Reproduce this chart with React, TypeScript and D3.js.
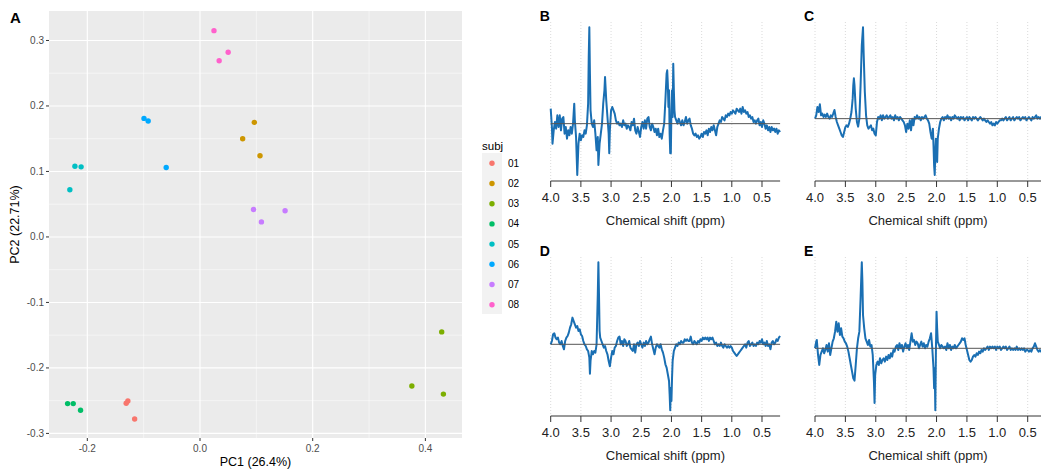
import React from "react";
import * as d3 from "d3";

// ---------- Panel A data (PCA scores) ----------
const SUBJ_LEVELS = ["01", "02", "03", "04", "05", "06", "07", "08"];
const SUBJ_COLORS = ["#F8766D", "#CD9600", "#7CAE00", "#00BE67", "#00BFC4", "#00A9FF", "#C77CFF", "#FF61CC"];
const SUBJ = ["01", "01", "01", "02", "02", "02", "03", "03", "03", "04", "04", "04", "05", "05", "05", "06", "06", "06", "07", "07", "07", "08", "08", "08"];
const PC1 = [-0.131, -0.128, -0.116, 0.0964, 0.0757, 0.1065, 0.429, 0.376, 0.432, -0.235, -0.225, -0.212, -0.222, -0.211, -0.231, -0.0994, -0.092, -0.06, 0.095, 0.151, 0.109, 0.0248, 0.05, 0.034];
const PC2 = [-0.254, -0.2504, -0.278, 0.175, 0.15, 0.124, -0.145, -0.2275, -0.24, -0.2545, -0.2545, -0.2646, 0.108, 0.107, 0.072, 0.181, 0.177, 0.106, 0.042, 0.04, 0.023, 0.315, 0.282, 0.269];
const PC1_TICKS = [-0.2, 0.0, 0.2, 0.4];
const PC1_MINOR = [-0.1, 0.1, 0.3];
const PC2_TICKS = [-0.3, -0.2, -0.1, 0.0, 0.1, 0.2, 0.3];
const PC2_MINOR = [-0.25, -0.15, -0.05, 0.05, 0.15, 0.25];

// ---------- Spectra data: [ppm, intensity (arbitrary units)] ----------
const PPM_TICKS = [4.0, 3.5, 3.0, 2.5, 2.0, 1.5, 1.0, 0.5];

const specB: [number, number][] = [
  [4.0, 45], [3.98, -10], [3.97, -60], [3.95, -20], [3.93, 5], [3.91, -15], [3.89, 25], [3.87, -10], [3.85, 25], [3.83, -20],
  [3.81, 15], [3.79, 20], [3.77, -30], [3.75, -10], [3.73, -45], [3.71, -20], [3.69, -35], [3.67, -10], [3.65, -30], [3.63, 0],
  [3.61, 60], [3.6, 10], [3.58, -40], [3.56, -154], [3.54, -60], [3.52, -30], [3.5, -50], [3.48, -35], [3.46, -40], [3.44, -20],
  [3.42, -30], [3.4, -5], [3.38, 60], [3.37, 200], [3.36, 289], [3.35, 150], [3.34, 40], [3.32, 0], [3.3, -10], [3.28, 10],
  [3.26, -30], [3.24, -80], [3.22, -40], [3.21, -124], [3.19, -60], [3.17, -30], [3.15, 0], [3.13, 60], [3.11, 100], [3.1, 140],
  [3.08, 70], [3.06, 20], [3.04, -30], [3.03, -89], [3.02, -20], [3.0, 40], [2.98, 50], [2.96, 40], [2.94, 30], [2.92, 10],
  [2.9, 0], [2.88, 5], [2.86, -5], [2.84, 0], [2.82, -10], [2.8, 10], [2.78, -5], [2.76, 0], [2.74, -15], [2.72, -5],
  [2.7, -10], [2.68, -20], [2.66, 5], [2.64, -5], [2.62, 15], [2.6, -20], [2.58, -30], [2.56, -10], [2.54, -25], [2.52, -40],
  [2.5, -10], [2.48, 5], [2.46, -15], [2.44, 10], [2.42, -15], [2.4, 15], [2.38, 20], [2.36, -10], [2.34, -20], [2.32, 0],
  [2.3, -10], [2.28, -25], [2.26, -15], [2.24, -35], [2.22, -15], [2.2, -40], [2.18, -30], [2.16, -45], [2.14, -20], [2.12, 0],
  [2.1, 70], [2.08, 150], [2.07, 160], [2.06, 120], [2.05, 50], [2.04, 100], [2.03, -30], [2.02, -89], [2.01, -89], [2.0, 40],
  [1.99, 100], [1.98, 20], [1.97, 180], [1.96, 100], [1.95, 40], [1.94, 20], [1.92, 10], [1.9, 0], [1.88, 15], [1.86, 5],
  [1.84, -5], [1.82, 10], [1.8, -5], [1.78, 5], [1.76, 20], [1.74, 0], [1.72, 10], [1.7, 15], [1.68, -5], [1.66, -15],
  [1.64, -30], [1.62, -35], [1.6, -30], [1.58, -40], [1.56, -35], [1.54, -45], [1.52, -40], [1.5, -30], [1.48, -40], [1.46, -25],
  [1.44, -30], [1.42, -20], [1.4, -35], [1.38, -15], [1.36, -25], [1.34, -10], [1.32, -20], [1.3, -5], [1.28, -20], [1.26, -35],
  [1.24, -10], [1.22, 0], [1.2, 10], [1.18, 5], [1.16, 20], [1.14, 15], [1.12, 10], [1.1, 25], [1.08, 20], [1.06, 30],
  [1.04, 25], [1.02, 35], [1.0, 30], [0.98, 40], [0.96, 35], [0.94, 30], [0.92, 45], [0.9, 40], [0.88, 35], [0.86, 45],
  [0.84, 30], [0.82, 50], [0.8, 35], [0.78, 40], [0.76, 30], [0.74, 35], [0.72, 20], [0.7, 25], [0.68, 15], [0.66, 20],
  [0.64, 5], [0.62, 10], [0.6, 0], [0.58, 10], [0.56, 15], [0.54, -5], [0.52, 5], [0.5, -10], [0.48, 10], [0.46, 0],
  [0.44, -15], [0.42, -5], [0.4, -20], [0.38, -10], [0.36, -25], [0.34, -10], [0.32, -20], [0.3, -15], [0.28, -25], [0.26, -15],
  [0.24, -30], [0.22, -20], [0.2, -25],
];

const specC: [number, number][] = [
  [4.0, 0], [3.98, 10], [3.96, 35], [3.94, 20], [3.92, 43], [3.9, 10], [3.88, 15], [3.86, 5], [3.84, 12], [3.82, 5],
  [3.8, 15], [3.78, 5], [3.76, 0], [3.74, 10], [3.72, 5], [3.7, 15], [3.68, 26], [3.66, 5], [3.64, -10], [3.62, -20],
  [3.6, -30], [3.58, -40], [3.56, -50], [3.54, -55], [3.52, -40], [3.5, -25], [3.48, -20], [3.46, -25], [3.44, -15], [3.42, 0],
  [3.4, 20], [3.38, 60], [3.37, 100], [3.36, 121], [3.35, 100], [3.33, 30], [3.31, -10], [3.29, -24], [3.27, 0], [3.25, 100],
  [3.23, 220], [3.21, 274], [3.2, 200], [3.18, 80], [3.16, 10], [3.14, -20], [3.12, -30], [3.1, -25], [3.08, -20], [3.06, -35],
  [3.04, -30], [3.02, -45], [3.0, -50], [2.98, -10], [2.96, 5], [2.94, 0], [2.92, 10], [2.9, -5], [2.88, 10], [2.86, 0],
  [2.84, 5], [2.82, 10], [2.8, 0], [2.78, 5], [2.76, 10], [2.74, 0], [2.72, 5], [2.7, -5], [2.68, 10], [2.66, 0],
  [2.64, 5], [2.62, -5], [2.6, 5], [2.58, 0], [2.56, -5], [2.54, -10], [2.52, -20], [2.5, -40], [2.48, -15], [2.46, -30],
  [2.44, -5], [2.42, -35], [2.4, 0], [2.38, -20], [2.36, 5], [2.34, 0], [2.32, 10], [2.3, 0], [2.28, 5], [2.26, -5],
  [2.24, 5], [2.22, 0], [2.2, 5], [2.18, 10], [2.16, 0], [2.14, -5], [2.12, -15], [2.1, -40], [2.08, -60], [2.06, -30],
  [2.05, -80], [2.04, -140], [2.03, -169], [2.02, -100], [2.01, -60], [2.0, -100], [1.99, -130], [1.98, -60], [1.96, -30], [1.94, -10],
  [1.92, 0], [1.9, 5], [1.88, -5], [1.86, 5], [1.84, 0], [1.82, 10], [1.8, 0], [1.78, 5], [1.76, -5], [1.74, 5],
  [1.72, 0], [1.7, 10], [1.68, 5], [1.66, 0], [1.64, 5], [1.62, -5], [1.6, 5], [1.58, 0], [1.56, 5], [1.54, -5],
  [1.52, 0], [1.5, 5], [1.48, -5], [1.46, 5], [1.44, 0], [1.42, -5], [1.4, 5], [1.38, 0], [1.36, 5], [1.34, 0],
  [1.32, -5], [1.3, 0], [1.28, 5], [1.26, 0], [1.24, -5], [1.22, 0], [1.2, -5], [1.18, -10], [1.16, -5], [1.14, -10],
  [1.12, -15], [1.1, -10], [1.08, -20], [1.06, -15], [1.04, -20], [1.02, -10], [1.0, -15], [0.98, -10], [0.96, -5], [0.94, -5],
  [0.92, 0], [0.9, -5], [0.88, 0], [0.86, 5], [0.84, -5], [0.82, 0], [0.8, 5], [0.78, -5], [0.76, 0], [0.74, 5],
  [0.72, -5], [0.7, 0], [0.68, 5], [0.66, 0], [0.64, 5], [0.62, -5], [0.6, 0], [0.58, 5], [0.56, 0], [0.54, 5],
  [0.52, -5], [0.5, 0], [0.48, 5], [0.46, 0], [0.44, -5], [0.42, 5], [0.4, 0], [0.38, 5], [0.36, 10], [0.34, 0],
  [0.32, 5], [0.3, 0], [0.28, 5], [0.26, -5], [0.24, 0], [0.22, 5], [0.2, 0],
];

const specD: [number, number][] = [
  [4.0, 0], [3.98, 10], [3.96, 30], [3.94, 33], [3.92, 20], [3.9, 15], [3.88, 20], [3.86, 5], [3.84, 0], [3.82, 10],
  [3.8, -5], [3.78, -15], [3.76, 10], [3.74, 20], [3.72, 25], [3.7, 35], [3.68, 50], [3.66, 60], [3.64, 80], [3.62, 70],
  [3.6, 60], [3.58, 50], [3.56, 55], [3.54, 40], [3.52, 45], [3.5, 30], [3.48, 25], [3.46, 10], [3.44, 0], [3.42, -5],
  [3.4, -15], [3.38, -20], [3.36, -40], [3.35, -88], [3.34, -50], [3.32, -20], [3.3, -30], [3.28, -20], [3.26, -25], [3.24, 0],
  [3.22, 150], [3.21, 246], [3.2, 150], [3.19, 40], [3.18, 20], [3.16, 10], [3.14, 0], [3.12, -10], [3.1, -5], [3.08, -20],
  [3.06, -30], [3.04, -50], [3.02, -66], [3.0, -40], [2.98, -20], [2.96, -30], [2.94, -10], [2.92, -5], [2.9, 10], [2.88, 20],
  [2.86, 23], [2.84, 0], [2.82, 10], [2.8, -5], [2.78, 15], [2.76, 10], [2.74, -5], [2.72, 0], [2.7, 10], [2.68, -10],
  [2.66, -15], [2.64, -20], [2.62, 0], [2.6, -25], [2.58, 0], [2.56, 5], [2.54, -5], [2.52, 10], [2.5, 0], [2.48, -10],
  [2.46, 5], [2.44, -5], [2.42, 10], [2.4, 0], [2.38, 5], [2.36, 15], [2.34, 23], [2.32, 0], [2.3, -15], [2.28, -30],
  [2.26, -10], [2.24, 0], [2.22, -5], [2.2, -10], [2.18, 0], [2.16, -15], [2.14, -25], [2.12, -40], [2.1, -60], [2.08, -70],
  [2.06, -90], [2.04, -110], [2.03, -150], [2.02, -198], [2.01, -130], [2.0, -170], [1.99, -100], [1.98, -50], [1.96, -20], [1.94, -10],
  [1.92, 0], [1.9, -5], [1.88, 5], [1.86, 0], [1.84, 10], [1.82, 5], [1.8, 5], [1.78, 15], [1.76, 10], [1.74, 15],
  [1.72, 10], [1.7, 10], [1.68, 23], [1.66, 5], [1.64, 0], [1.62, 10], [1.6, 5], [1.58, 0], [1.56, 10], [1.54, 5],
  [1.52, 15], [1.5, 10], [1.48, 20], [1.46, 15], [1.44, 20], [1.42, 15], [1.4, 20], [1.38, 10], [1.36, 20], [1.34, 15],
  [1.32, 20], [1.3, 10], [1.28, 0], [1.26, 5], [1.24, -5], [1.22, 0], [1.2, -5], [1.18, 5], [1.16, -5], [1.14, -10],
  [1.12, 0], [1.1, -5], [1.08, -10], [1.06, -5], [1.04, -10], [1.02, -5], [1.0, -10], [0.98, -20], [0.96, -25], [0.94, -30],
  [0.92, -35], [0.9, -30], [0.88, -25], [0.86, -20], [0.84, -15], [0.82, -10], [0.8, -5], [0.78, 0], [0.76, -10], [0.74, 5],
  [0.72, 10], [0.7, -5], [0.68, 0], [0.66, 5], [0.64, -5], [0.62, 0], [0.6, -5], [0.58, 5], [0.56, 0], [0.54, 10],
  [0.52, 5], [0.5, 15], [0.48, 0], [0.46, 5], [0.44, -5], [0.42, 10], [0.4, -5], [0.38, 0], [0.36, -15], [0.34, 5],
  [0.32, 10], [0.3, 0], [0.28, 5], [0.26, 15], [0.24, 10], [0.22, 20], [0.2, 25],
];

const specE: [number, number][] = [
  [4.0, 0], [3.98, 20], [3.97, 25], [3.95, -20], [3.93, -50], [3.91, -20], [3.89, -10], [3.87, 0], [3.85, -15], [3.83, -5],
  [3.81, 10], [3.79, -10], [3.77, 15], [3.75, -20], [3.73, 0], [3.71, 20], [3.69, 30], [3.67, 50], [3.65, 80], [3.63, 50],
  [3.61, 75], [3.59, 40], [3.57, 60], [3.55, 35], [3.53, 30], [3.51, 20], [3.49, 15], [3.47, 5], [3.45, -10], [3.43, -30],
  [3.41, -50], [3.39, -70], [3.37, -90], [3.35, -97], [3.33, -50], [3.31, 0], [3.29, 30], [3.27, 50], [3.25, 150], [3.23, 258],
  [3.22, 200], [3.21, 100], [3.19, 60], [3.17, 30], [3.15, 20], [3.13, 10], [3.11, 25], [3.09, 5], [3.07, 10], [3.05, -20],
  [3.03, -100], [3.02, -164], [3.01, -80], [2.99, -50], [2.97, -40], [2.95, -50], [2.93, -30], [2.91, -45], [2.89, -35], [2.87, -30],
  [2.85, -40], [2.83, -25], [2.81, -35], [2.79, -20], [2.77, -30], [2.75, -15], [2.73, -25], [2.71, -5], [2.69, -10], [2.67, 5],
  [2.65, 10], [2.63, -5], [2.61, 15], [2.59, 0], [2.57, 10], [2.55, -10], [2.53, 5], [2.51, 15], [2.49, 0], [2.47, 10],
  [2.45, -5], [2.43, 20], [2.41, 45], [2.39, 20], [2.37, 25], [2.35, 10], [2.33, 20], [2.31, 15], [2.29, 0], [2.27, 10],
  [2.25, 20], [2.23, 5], [2.21, 15], [2.19, 0], [2.17, 10], [2.15, 5], [2.13, 20], [2.11, 30], [2.09, 45], [2.07, 0],
  [2.05, -60], [2.04, -120], [2.03, -60], [2.02, -186], [2.01, 0], [2.0, 110], [1.99, 60], [1.98, 20], [1.96, 10], [1.94, 0],
  [1.92, 10], [1.9, 5], [1.88, 0], [1.86, 5], [1.84, -5], [1.82, 15], [1.8, 0], [1.78, 10], [1.76, -5], [1.74, 5],
  [1.72, 0], [1.7, 10], [1.68, 0], [1.66, 5], [1.64, 10], [1.62, 15], [1.6, 20], [1.58, 30], [1.56, 25], [1.54, 30],
  [1.52, 10], [1.5, -5], [1.48, -20], [1.46, -35], [1.44, -40], [1.42, -35], [1.4, -25], [1.38, -20], [1.36, -25], [1.34, -15],
  [1.32, -20], [1.3, -10], [1.28, -15], [1.26, -5], [1.24, -10], [1.22, 0], [1.2, -5], [1.18, 0], [1.16, 5], [1.14, -5],
  [1.12, 5], [1.1, 0], [1.08, 5], [1.06, 0], [1.04, 5], [1.02, -5], [1.0, 5], [0.98, 0], [0.96, 5], [0.94, -5],
  [0.92, 0], [0.9, 5], [0.88, 0], [0.86, 5], [0.84, -5], [0.82, 0], [0.8, 5], [0.78, -5], [0.76, 0], [0.74, -5],
  [0.72, 0], [0.7, -5], [0.68, 5], [0.66, -5], [0.64, 0], [0.62, -5], [0.6, 0], [0.58, -5], [0.56, 0], [0.54, -10],
  [0.52, -5], [0.5, -5], [0.48, -10], [0.46, -5], [0.44, -10], [0.42, 0], [0.4, 5], [0.38, 15], [0.36, 5], [0.34, -5],
  [0.32, -10], [0.3, -5], [0.28, -10], [0.26, -5], [0.24, -10], [0.22, -5], [0.2, -10],
];

const FONT = "'Liberation Sans', Arial, Helvetica, sans-serif";
const LINE_COLOR = "#1A6FB3";

type SpecPanelProps = {
  label: string;
  data: [number, number][];
  x0: number;
  pxPerPpm: number;
  top: number;
  bottom: number;
  gridTop: number;
  axisY: number;
};

function SpecPanel({ label, data, x0, pxPerPpm, top, bottom, gridTop, axisY }: SpecPanelProps) {
  const x = d3.scaleLinear().domain([4.0, 0.2]).range([x0, x0 + 3.8 * pxPerPpm]);
  const ext = d3.extent(data, (d) => d[1]) as [number, number];
  const y = d3.scaleLinear().domain(ext).range([bottom, top]);
  const line = d3
    .line<[number, number]>()
    .x((d) => x(d[0]))
    .y((d) => y(d[1]));
  const [xa, xb] = x.range();
  return (
    <g>
      <text x={x0 - 11} y={gridTop - 1} fontFamily={FONT} fontWeight="bold" fontSize={14} fill="#000">
        {label}
      </text>
      {PPM_TICKS.map((t) => (
        <line key={"g" + t} x1={x(t)} x2={x(t)} y1={gridTop} y2={axisY} stroke="#D0D0D0" strokeWidth={0.8} strokeDasharray="1,2" />
      ))}
      <path d={line(data) || ""} fill="none" stroke={LINE_COLOR} strokeWidth={2} strokeLinejoin="round" />
      <line x1={xa} x2={xb} y1={y(0)} y2={y(0)} stroke="#555" strokeWidth={1} />
      <line x1={xa} x2={xb} y1={axisY} y2={axisY} stroke="#333" strokeWidth={1} />
      {PPM_TICKS.map((t) => (
        <g key={"t" + t}>
          <line x1={x(t)} x2={x(t)} y1={axisY} y2={axisY + 6} stroke="#333" strokeWidth={1} />
          <text x={x(t)} y={axisY + 21} textAnchor="middle" fontFamily={FONT} fontSize={13} fill="#222">
            {t.toFixed(1)}
          </text>
        </g>
      ))}
      <text x={(xa + Math.min(xb, 1041)) / 2 + (xb > 1041 ? 0 : 0)} y={axisY + 44} textAnchor="middle" fontFamily={FONT} fontSize={13} fill="#222">
        Chemical shift (ppm)
      </text>
    </g>
  );
}

export default function App() {
  // Panel A geometry
  const L = 49, R = 462, T = 11, B = 438;
  const x = d3.scaleLinear().domain([-0.268, 0.465]).range([L, R]);
  const y = d3.scaleLinear().domain([-0.307, 0.345]).range([B, T]);
  const color = d3.scaleOrdinal<string, string>().domain(SUBJ_LEVELS).range(SUBJ_COLORS);
  const fmt = (v: number) => (Math.abs(v) < 1e-9 ? "0.0" : v.toFixed(1));

  return (
    <svg width={1041} height={470} style={{ position: "absolute", left: 0, top: 0, background: "#fff" }}>
      <rect x={0} y={0} width={1041} height={470} fill="#fff" />
      {/* Panel A */}
      <text x={10} y={23} fontFamily={FONT} fontWeight="bold" fontSize={15} fill="#000">A</text>
      <rect x={L} y={T} width={R - L} height={B - T} fill="#EBEBEB" />
      {PC1_MINOR.map((v) => (
        <line key={"xm" + v} x1={x(v)} x2={x(v)} y1={T} y2={B} stroke="#fff" strokeWidth={0.5} />
      ))}
      {PC2_MINOR.map((v) => (
        <line key={"ym" + v} x1={L} x2={R} y1={y(v)} y2={y(v)} stroke="#fff" strokeWidth={0.5} />
      ))}
      {PC1_TICKS.map((v) => (
        <line key={"xM" + v} x1={x(v)} x2={x(v)} y1={T} y2={B} stroke="#fff" strokeWidth={1.1} />
      ))}
      {PC2_TICKS.map((v) => (
        <line key={"yM" + v} x1={L} x2={R} y1={y(v)} y2={y(v)} stroke="#fff" strokeWidth={1.1} />
      ))}
      {PC1.map((v, i) => (
        <circle key={"p" + i} cx={x(v)} cy={y(PC2[i])} r={2.7} fill={color(SUBJ[i])} />
      ))}
      {PC1_TICKS.map((v) => (
        <g key={"xt" + v}>
          <line x1={x(v)} x2={x(v)} y1={B} y2={B + 3} stroke="#333" strokeWidth={1} />
          <text x={x(v)} y={B + 14} textAnchor="middle" fontFamily={FONT} fontSize={10} fill="#4D4D4D">
            {fmt(v)}
          </text>
        </g>
      ))}
      {PC2_TICKS.map((v) => (
        <g key={"yt" + v}>
          <line x1={L - 3} x2={L} y1={y(v)} y2={y(v)} stroke="#333" strokeWidth={1} />
          <text x={L - 5} y={y(v) + 3.5} textAnchor="end" fontFamily={FONT} fontSize={10} fill="#4D4D4D">
            {fmt(v)}
          </text>
        </g>
      ))}
      <text x={(L + R) / 2} y={466} textAnchor="middle" fontFamily={FONT} fontSize={12.5} fill="#000">
        PC1 (26.4%)
      </text>
      <text transform={`translate(19,${(T + B) / 2}) rotate(-90)`} textAnchor="middle" fontFamily={FONT} fontSize={12.5} fill="#000">
        PC2 (22.71%)
      </text>
      {/* Legend */}
      <text x={482} y={150} fontFamily={FONT} fontSize={11.5} fill="#000">subj</text>
      <rect x={482} y={153} width={20} height={161} fill="#F2F2F2" />
      {SUBJ_LEVELS.map((s, i) => (
        <g key={"lg" + s}>
          <circle cx={492} cy={163.3 + i * 20.2} r={2.7} fill={color(s)} />
          <text x={508} y={163.3 + i * 20.2 + 3.5} fontFamily={FONT} fontSize={10} fill="#000">
            {s}
          </text>
        </g>
      ))}
      {/* Spectra panels */}
      <SpecPanel label="B" data={specB} x0={550.7} pxPerPpm={60.37} top={27.3} bottom={175} gridTop={22} axisY={181} />
      <SpecPanel label="C" data={specC} x0={815} pxPerPpm={60.77} top={27.3} bottom={175} gridTop={22} axisY={181} />
      <SpecPanel label="D" data={specD} x0={550.7} pxPerPpm={60.37} top={262.3} bottom={410.3} gridTop={257} axisY={416} />
      <SpecPanel label="E" data={specE} x0={815} pxPerPpm={60.77} top={262.3} bottom={410.3} gridTop={257} axisY={416} />
    </svg>
  );
}
